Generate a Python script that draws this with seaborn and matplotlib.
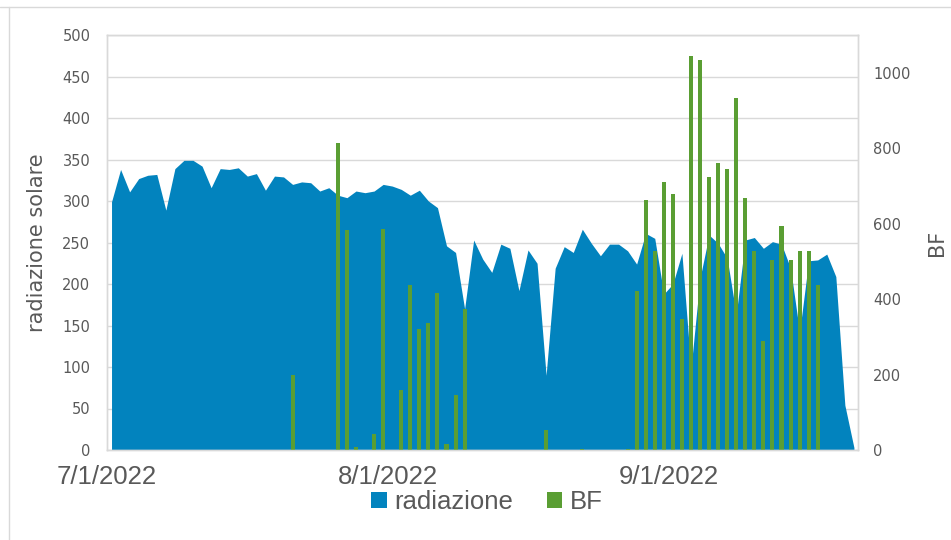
import numpy as np
import pandas as pd
import seaborn as sns
import matplotlib.pyplot as plt
from matplotlib.patches import Patch
from matplotlib.lines import Line2D

# daily values 7/1/2022 .. 9/21/2022
dates = pd.date_range("2022-07-01", "2022-09-21", freq="D")

radiazione = [299, 338, 311, 327, 331, 332, 289, 339, 349, 349,
              342, 316, 339, 338, 340, 330, 333, 313, 330, 329,
              320, 323, 322, 312, 316, 307, 304, 312, 310, 312,
              320, 318, 314, 307, 313, 300, 292, 246, 238, 170,
              253, 230, 214, 248, 243, 192, 241, 225, 90, 219,
              245, 238, 266, 249, 234, 248, 248, 240, 224, 261,
              255, 188, 200, 237, 98, 207, 259, 249, 231, 163,
              253, 256, 243, 251, 248, 219, 142, 228, 229, 236,
              209, 54, 3]

bf = [0, 0, 0, 0, 0, 0, 0, 0, 0, 0,
      0, 0, 0, 0, 0, 0, 0, 0, 0, 0,
      198, 0, 0, 0, 0, 813, 583, 8, 0, 42,
      587, 0, 159, 437, 322, 336, 417, 17, 146, 373,
      0, 0, 0, 0, 0, 0, 0, 0, 52, 0,
      0, 0, 3, 0, 0, 0, 0, 3, 421, 663,
      528, 710, 679, 347, 1044, 1033, 723, 762, 744, 933,
      667, 528, 288, 504, 593, 504, 528, 528, 437, 0,
      0, 0, 0]

xtick_labels = ["7/1/2022", "8/1/2022", "9/1/2022"]

blue = "#0283be"
green = "#5a9e33"
grey = "#d9d9d9"
txt = "#595959"

sns.set_style("white")
plt.rcParams["font.family"] = ["DejaVu Sans"]

df = pd.DataFrame({"date": dates, "radiazione": radiazione, "BF": bf})
df["pos"] = np.arange(len(df))

fig = plt.figure(figsize=(9.51, 5.4), dpi=100)
ax = fig.add_axes([107 / 951, 1 - 450 / 540, 751 / 951, 415 / 540])
ax2 = ax.twinx()

ax.fill_between(df["pos"], df["radiazione"], color=blue, lw=0, zorder=2)
sns.barplot(data=df, x="pos", y="BF", ax=ax2, color=green, saturation=1,
            width=0.45, native_scale=False, linewidth=0, edgecolor="none")

# date ticks at month starts (left edge of the day)
month_starts = [(d - dates[0]).days - 0.5 for d in pd.to_datetime(["2022-07-01", "2022-08-01", "2022-09-01"])]
ax.set_xlim(-0.5, 82.45)
ax.set_xticks(month_starts)
ax.set_xticklabels(xtick_labels, fontsize=18.5, color=txt, family=["Liberation Sans", "DejaVu Sans"])
ax.tick_params(axis="x", length=5, color=grey, width=1, pad=6)

ax.set_ylim(0, 500)
ax.set_yticks(np.arange(0, 501, 50))
ax.tick_params(axis="y", length=0, labelsize=10.5, labelcolor=txt, pad=12)
ax.yaxis.grid(True, color=grey, lw=1)
ax.xaxis.grid(False)
ax.set_axisbelow(True)
ax.set_xlabel("")
ax.set_ylabel("radiazione solare", fontsize=15, color=txt)
ax.yaxis.set_label_coords(-0.08, 0.5)

ax2.set_ylim(0, 1100)
ax2.set_yticks(np.arange(0, 1001, 200))
ax2.tick_params(axis="y", length=0, labelsize=10.5, labelcolor=txt, pad=11)
ax2.grid(False)
ax2.set_xlabel("")
ax2.set_ylabel("BF", fontsize=15, color=txt)
ax2.yaxis.set_label_coords(1.092, 0.5)

for a in (ax, ax2):
    for s in a.spines.values():
        s.set_color(grey)
        s.set_linewidth(1)

handles = [Patch(facecolor=blue, edgecolor="none", label="radiazione"),
           Patch(facecolor=green, edgecolor="none", label="BF")]
leg = fig.legend(handles=handles, loc="center", bbox_to_anchor=(487 / 951, 1 - 502 / 540),
                 ncol=2, frameon=False, handlelength=0.6, handleheight=0.6,
                 handletextpad=0.3, columnspacing=1.3,
                 prop={"family": ["Liberation Sans", "DejaVu Sans"], "size": 18.5})
for t in leg.get_texts():
    t.set_color(txt)

# outer chart frame
fig.add_artist(Line2D([0, 1], [1 - 7 / 540, 1 - 7 / 540], color=grey, lw=1))
fig.add_artist(Line2D([9 / 951, 9 / 951], [0, 1 - 7 / 540], color=grey, lw=1))

fig.savefig("out.png", dpi=100)
